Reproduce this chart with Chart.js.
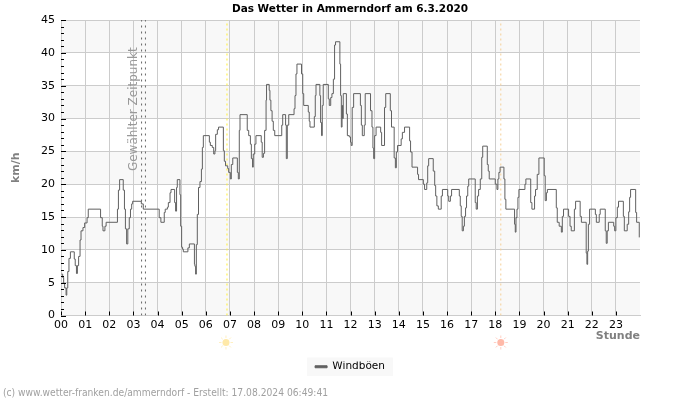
<!DOCTYPE html>
<html>
<head>
<meta charset="utf-8">
<style>
  html, body { margin: 0; padding: 0; background: #fff; }
  canvas { display: block; }
</style>
<script src="https://cdn.jsdelivr.net/npm/chart.js@4/dist/chart.umd.js"></script>
</head>
<body>
<canvas id="chart" width="700" height="400"></canvas>
<script>
const hourLabels = ['00','01','02','03','04','05','06','07','08','09','10','11','12','13','14','15','16','17','18','19','20','21','22','23'];

const gustHours = [
  0.02,0.07,0.11,0.15,0.21,0.24,0.28,0.33,0.39,0.55,0.59,0.64,0.68,0.73,0.79,0.83,0.91,0.98,1.08,1.13,
  1.64,1.71,1.74,1.82,1.87,2.34,2.38,2.43,2.58,2.63,2.67,2.72,2.77,2.83,2.88,2.93,2.97,3.33,3.41,4.07,
  4.14,4.28,4.32,4.41,4.45,4.52,4.56,4.71,4.75,4.79,4.82,4.93,4.96,5.0,5.04,5.07,5.26,5.32,5.53,5.55,
  5.58,5.61,5.65,5.70,5.76,5.82,5.86,5.90,6.15,6.19,6.27,6.33,6.38,6.41,6.48,6.53,6.73,6.77,6.82,6.91,
  6.95,7.02,7.06,7.12,7.31,7.35,7.39,7.42,7.72,7.78,7.85,7.89,7.94,7.97,8.03,8.08,8.30,8.34,8.39,8.44,
  8.50,8.52,8.63,8.66,8.70,8.75,8.80,8.86,9.15,9.19,9.31,9.34,9.38,9.44,9.66,9.70,9.74,9.78,9.97,10.02,
  10.06,10.25,10.29,10.32,10.50,10.54,10.57,10.73,10.76,10.80,10.83,10.87,11.08,11.12,11.18,11.23,11.29,11.34,11.38,11.56,
  11.59,11.62,11.65,11.67,11.70,11.83,11.87,11.95,12.0,12.03,12.07,12.13,12.41,12.45,12.49,12.57,12.61,12.83,12.89,12.93,
  12.96,13.0,13.06,13.25,13.29,13.41,13.46,13.65,13.70,13.81,13.86,13.90,13.95,14.10,14.15,14.24,14.45,14.49,14.55,14.78,
  14.82,15.02,15.07,15.16,15.20,15.24,15.43,15.49,15.53,15.58,15.64,15.76,15.81,16.03,16.07,16.14,16.19,16.51,16.55,16.59,
  16.63,16.68,16.72,16.77,16.81,16.86,16.90,17.17,17.21,17.26,17.31,17.38,17.44,17.48,17.67,17.71,17.75,18.0,18.07,18.11,
  18.15,18.2,18.36,18.40,18.44,18.80,18.83,18.86,18.9,18.94,18.98,19.23,19.27,19.47,19.52,19.63,19.67,19.74,19.81,20.03,
  20.07,20.12,20.16,20.53,20.57,20.65,20.74,20.78,20.83,21.04,21.1,21.15,21.28,21.33,21.52,21.57,21.77,21.8,21.83,21.86,
  21.91,22.15,22.19,22.31,22.35,22.56,22.60,22.64,22.69,22.91,22.95,23.0,23.06,23.11,23.31,23.35,23.47,23.53,23.57,23.61,
  23.82,23.86,23.97
];
const gustValues = [
  6.3,5.8,4.9,4.2,3.1,4.2,6.7,8.7,9.7,8.6,7.6,6.4,7.6,9.0,11.5,12.9,13.4,14.1,14.9,16.2,
  14.9,13.6,12.9,13.6,14.2,16.2,19.1,20.7,19.1,16.2,13.2,10.9,13.2,14.9,16.2,17,17.4,17,16.2,14.9,
  14.2,15.7,16.2,16.5,17.2,18.7,19.2,17.2,15.9,19.5,20.7,18.4,13.6,10.4,10.1,9.7,10.3,10.9,7.8,7.5,
  6.3,10.8,15.4,19.5,20.4,22.3,25.6,27.4,26.4,25.9,25.6,24.6,25.1,27.6,28.3,28.7,25.1,23.5,22.8,22.4,
  21.8,20.8,23,24,21.8,20.8,28.2,30.6,28.2,27.4,26.1,23.9,22.6,24.6,26.1,27.4,26.4,24.1,24.7,28.2,
  32.8,35.2,34.3,32.8,31.2,29.6,28.2,27.4,29,30.6,29,23.9,29,30.6,31.5,33.5,36.8,38.3,36.8,33.8,
  32,31,29.6,28.7,30.3,33.5,35.2,33.5,29.4,27.4,32,35.2,33,32,33.2,33.8,36,41.2,41.7,38.3,
  33.5,28.7,32,30,33.8,30.7,27.4,27.2,26.4,25.9,31.7,33.8,32,29,27.4,29,33.8,31.2,28.7,25.5,
  23.9,27.4,28.7,27.9,25.9,31.7,33.8,31.2,28.7,24,22.5,24.9,25.9,26.9,27.9,28.7,26.6,24.9,22.6,21.5,
  20.7,20,19.2,20.2,22.8,23.9,22,19.8,18.2,16.7,16.2,18.2,19.2,18.2,17.4,18.2,19.2,18.2,16.7,15.1,
  12.9,13.6,15.1,16.4,18.2,19.7,20.8,17.2,16.2,18.2,19.2,20.8,24.1,25.8,23,22,20.8,20,19.2,20.8,
  21.8,22.6,20.8,17.7,16.2,13.9,12.7,14.9,16.2,18,19.2,20,20.8,17.2,16.2,18.2,19.2,21.5,24,21.3,
  17.5,18.7,19.2,16.4,14.2,13.6,12.7,15.1,16.2,15.1,13.6,12.9,16.2,17.4,15.1,14.2,9.5,7.8,9.8,13.9,
  16.2,15.4,14.2,15.4,16.2,12.9,11,12.9,14.2,13.6,12.9,14.9,16.5,17.4,15.1,12.9,13.9,15.8,18,19.2,
  15.7,14.2,11.9
];

const selectedHours = [3.34, 3.5];
const sunriseHour = 6.88;
const sunsetHour = 18.23;
const minorKmh = Array.from({ length: 46 }, (_, i) => i);

function verticalLine(hour, color, dash) {
  return {
    label: 'marker',
    data: [{ x: hour, y: 0 }, { x: hour, y: 45 }],
    borderColor: color,
    borderWidth: 1,
    borderDash: dash,
    pointRadius: 0
  };
}

// grey bands every 5 km/h, behind the grid
const bands = {
  id: 'bands',
  beforeDraw(chart) {
    const { ctx, chartArea, scales } = chart;
    ctx.save();
    ctx.fillStyle = '#ffffff';
    ctx.fillRect(0, 0, chart.width, chart.height);
    ctx.fillStyle = '#f8f8f8';
    for (let v = 0; v < 45; v += 10) {
      const top = scales.y.getPixelForValue(v + 5);
      ctx.fillRect(chartArea.left, top, chartArea.width, scales.y.getPixelForValue(v) - top);
    }
    const box = chart.legend.legendHitBoxes[0];
    if (box) ctx.fillRect(box.left - 8, box.top - 4, box.width + 16, box.height + 8);
    ctx.restore();
  }
};

// inner tick marks, selected-time label, sun symbols and footer
const extras = {
  id: 'extras',
  afterDraw(chart) {
    const { ctx, chartArea, scales } = chart;
    ctx.save();
    ctx.strokeStyle = '#000000';
    ctx.lineWidth = 1;
    ctx.beginPath();
    minorKmh.forEach(v => {
      const y = Math.round(scales.y.getPixelForValue(v)) + 0.5;
      ctx.moveTo(chartArea.left, y);
      ctx.lineTo(chartArea.left + (v % 5 === 0 ? 5 : 3), y);
    });
    hourLabels.forEach((_, h) => {
      const x = Math.round(scales.x.getPixelForValue(h)) + 0.5;
      ctx.moveTo(x, chartArea.bottom);
      ctx.lineTo(x, chartArea.bottom - 4);
    });
    ctx.stroke();

    ctx.save();
    ctx.translate(scales.x.getPixelForValue(3), scales.y.getPixelForValue(22));
    ctx.rotate(-Math.PI / 2);
    ctx.fillStyle = '#999999';
    ctx.font = '12px "DejaVu Sans"';
    ctx.textAlign = 'left';
    ctx.textBaseline = 'middle';
    ctx.fillText('Gewählter Zeitpunkt', 0, 0);
    ctx.restore();

    drawSun(ctx, scales.x.getPixelForValue(sunriseHour) - 1, chartArea.bottom + 27, '#ffe9a8');
    drawSun(ctx, scales.x.getPixelForValue(sunsetHour), chartArea.bottom + 27, '#ffb9a8');

    ctx.fillStyle = '#a0a0a0';
    ctx.font = 'condensed 10.2px "DejaVu Sans"';
    ctx.textAlign = 'left';
    ctx.textBaseline = 'middle';
    ctx.fillText('(c) www.wetter-franken.de/ammerndorf - Erstellt: 17.08.2024 06:49:41', 3, 393);
    ctx.restore();
  }
};

function drawSun(ctx, x, y, color) {
  ctx.save();
  ctx.fillStyle = color;
  ctx.strokeStyle = color;
  ctx.beginPath();
  ctx.arc(x, y, 3.5, 0, Math.PI * 2);
  ctx.fill();
  ctx.lineWidth = 1;
  ctx.globalAlpha = 0.7;
  ctx.beginPath();
  for (let i = 0; i < 8; i++) {
    const a = i * Math.PI / 4;
    ctx.moveTo(x + Math.cos(a) * 4.5, y + Math.sin(a) * 4.5);
    ctx.lineTo(x + Math.cos(a) * 7, y + Math.sin(a) * 7);
  }
  ctx.stroke();
  ctx.restore();
}

new Chart(document.getElementById('chart'), {
  type: 'line',
  data: {
    datasets: [
      {
        label: 'Windböen',
        data: gustHours.map((h, i) => ({ x: h, y: gustValues[i] })),
        borderColor: '#606060',
        backgroundColor: '#606060',
        borderWidth: 1,
        stepped: true,
        pointRadius: 0
      },
      verticalLine(selectedHours[0], '#666666', [2, 4]),
      verticalLine(selectedHours[1], '#666666', [2, 4]),
      verticalLine(sunriseHour, '#ffee33', [2, 3]),
      verticalLine(sunsetHour, '#f5cf95', [2, 3])
    ]
  },
  options: {
    responsive: false,
    animation: false,
    devicePixelRatio: 1,
    layout: { padding: { left: 0, right: 0, top: 0, bottom: 18 } },
    plugins: {
      title: {
        display: true,
        text: 'Das Wetter in Ammerndorf am 6.3.2020',
        color: '#000000',
        font: { family: 'DejaVu Sans', size: 10.5, weight: 'bold' },
        padding: { top: 3, bottom: 4.5 }
      },
      legend: {
        position: 'bottom',
        labels: {
          color: '#000000',
          font: { family: 'DejaVu Sans', size: 10.5 },
          boxWidth: 12,
          boxHeight: 2,
          padding: 0,
          filter: item => item.text === 'Windböen'
        }
      },
      tooltip: { enabled: false }
    },
    scales: {
      x: {
        type: 'linear',
        min: 0,
        max: 24,
        afterFit(scale) { scale.height = 46; },
        afterBuildTicks(scale) { scale.ticks = Array.from({ length: 25 }, (_, i) => ({ value: i })); },
        grid: { color: '#cccccc', drawTicks: false },
        border: { color: '#cccccc' },
        ticks: {
          autoSkip: false,
          maxRotation: 0,
          padding: 3,
          color: '#000000',
          font: { family: 'DejaVu Sans', size: 11 },
          callback: value => hourLabels[value]
        },
        title: {
          display: true,
          text: 'Stunde',
          align: 'end',
          color: '#808080',
          font: { family: 'DejaVu Sans', size: 11, weight: 'bold' },
          padding: { top: 0, bottom: 19 }
        }
      },
      y: {
        min: 0,
        max: 45,
        afterFit(scale) { scale.width = 61; },
        grid: { color: '#cccccc', drawTicks: false },
        border: { color: '#cccccc' },
        ticks: {
          stepSize: 5,
          padding: 6,
          color: '#000000',
          font: { family: 'DejaVu Sans', size: 11 }
        },
        title: {
          display: true,
          text: 'km/h',
          color: '#808080',
          font: { family: 'DejaVu Sans', size: 11, weight: 'bold' },
          padding: { top: 10, bottom: 0 }
        }
      },
      // empty axis, keeps the right margin without shifting title and legend
      yRight: {
        position: 'right',
        min: 0,
        max: 45,
        afterFit(scale) { scale.width = 60; },
        grid: { display: false, drawTicks: false },
        border: { display: false },
        ticks: { display: false }
      }
    }
  },
  plugins: [bands, extras]
});
</script>
</body>
</html>
